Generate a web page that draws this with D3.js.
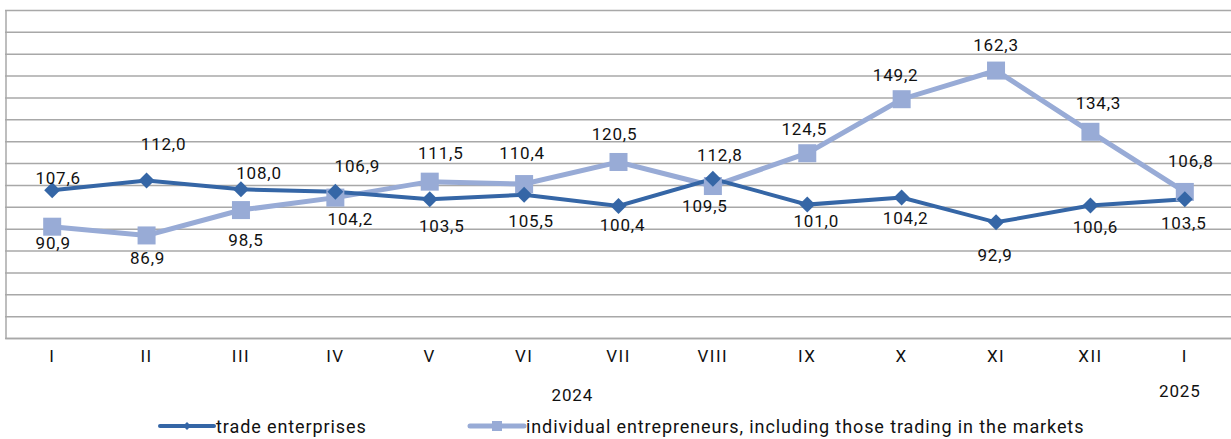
<!DOCTYPE html>
<html>
<head>
<meta charset="utf-8">
<script src="https://cdn.jsdelivr.net/npm/d3@7"></script>
<style>
  html, body { margin: 0; padding: 0; background: #fff; }
  svg text { font-family: Roboto, "Noto Sans", sans-serif; fill: #111; }
</style>
</head>
<body>
<div id="chart-area"></div>
<script>
// місяці
const months = ["I", "II", "III", "IV", "V", "VI", "VII", "VIII", "IX", "X", "XI", "XII", "I"];
const years = [
  { label: "2024", at: 5.5 },
  { label: "2025", at: 12 }
];

// ряди даних
const tradeEnterprises = [107.6, 112.0, 108.0, 106.9, 103.5, 105.5, 100.4, 112.8, 101.0, 104.2, 92.9, 100.6, 103.5];
const individualEntrepreneurs = [90.9, 86.9, 98.5, 104.2, 111.5, 110.4, 120.5, 109.5, 124.5, 149.2, 162.3, 134.3, 106.8];

const seriesNames = [
  "trade enterprises",
  "individual entrepreneurs, including those trading in the markets"
];

// зсуви підписів (px) відносно точки
const tradeLabelShift = [[6, -12], [17, -37], [18, -16], [22, -26], [12, 27], [7, 26], [4, 19], [7, -24], [9, 16], [4, 20], [-1, 33], [5, 22], [-1, 24]];
const indivLabelShift = [[1, 16], [1, 23], [5, 30], [15, 21], [11, -29], [-2, -31], [-4, -28], [-8, 20], [-3, -24], [-6, -24], [0, -26], [8, -29], [6, -31]];

const yDomain = [40, 190];
const yTicks = d3.range(40, 191, 10);

const width = 1231, height = 439;
const margin = { top: 10, right: -1, bottom: 101, left: 5 };
const innerW = width - margin.left - margin.right;
const innerH = height - margin.top - margin.bottom;

const darkBlue = "#3566a6";
const lightBlue = "#98abd6";

const svg = d3.select("#chart-area")
  .append("svg")
  .attr("width", width)
  .attr("height", height);

const g = svg.append("g")
  .attr("transform", "translate(" + margin.left + "," + margin.top + ")");

const xScale = d3.scaleBand()
  .domain(d3.range(months.length))
  .range([0, innerW])
  .padding(0);

const yScale = d3.scaleLinear()
  .domain(yDomain)
  .range([innerH, 0]);

const cx = i => xScale(i) + xScale.bandwidth() / 2;

// сітка
g.append("g")
  .attr("class", "grid")
  .call(d3.axisLeft(yScale).tickValues(yTicks).tickSize(-innerW).tickFormat(""))
  .call(s => s.select(".domain").remove())
  .call(s => s.selectAll("line").attr("stroke", "#a8a8a8").attr("stroke-width", 1.5));

// вісь OY (лише лінія)
g.append("line")
  .attr("x1", 1).attr("x2", 1)
  .attr("y1", 0).attr("y2", innerH)
  .attr("stroke", "#a8a8a8").attr("stroke-width", 1.5);

// вісь OX
const xAxis = g.append("g")
  .attr("transform", "translate(0," + innerH + ")")
  .call(d3.axisBottom(xScale).tickSize(0).tickPadding(12).tickFormat(i => months[i]));
xAxis.select(".domain").attr("stroke", "#a8a8a8").attr("stroke-width", 1.5);
xAxis.selectAll("text")
  .style("font-size", "17px")
  .style("letter-spacing", "1.5px")
  .attr("fill", "#111");

// роки
g.selectAll(".year")
  .data(years)
  .enter()
  .append("text")
  .attr("class", "year")
  .attr("x", d => xScale(Math.floor(d.at)) + xScale.bandwidth() * (d.at % 1 + 0.5) + (d.label === "2024" ? 1 : -5))
  .attr("y", d => innerH + (d.label === "2024" ? 57 : 53))
  .attr("text-anchor", "middle")
  .attr("dominant-baseline", "central")
  .style("font-size", "17px")
  .style("letter-spacing", "0.8px")
  .text(d => d.label);

const line = d3.line()
  .x((d, i) => cx(i))
  .y(d => yScale(d));

// лінія ФОП
g.append("path")
  .datum(individualEntrepreneurs)
  .attr("fill", "none")
  .attr("stroke", lightBlue)
  .attr("stroke-width", 5)
  .attr("d", line);

// лінія підприємств
g.append("path")
  .datum(tradeEnterprises)
  .attr("fill", "none")
  .attr("stroke", darkBlue)
  .attr("stroke-width", 4)
  .attr("d", line);

// маркери-квадрати
g.selectAll(".sq")
  .data(individualEntrepreneurs)
  .enter()
  .append("rect")
  .attr("class", "sq")
  .attr("x", (d, i) => cx(i) - 9)
  .attr("y", d => yScale(d) - 9)
  .attr("width", 18)
  .attr("height", 18)
  .attr("fill", lightBlue);

// маркери-ромби
g.selectAll(".dia")
  .data(tradeEnterprises)
  .enter()
  .append("path")
  .attr("class", "dia")
  .attr("transform", (d, i) => "translate(" + cx(i) + "," + yScale(d) + ")")
  .attr("d", "M0,-8L8,0L0,8L-8,0Z")
  .attr("fill", darkBlue);

const fmt = v => v.toFixed(1).replace(".", ",");

function drawLabels(data, shifts, cls) {
  g.selectAll("." + cls)
    .data(data)
    .enter()
    .append("text")
    .attr("class", cls)
    .attr("x", (d, i) => cx(i) + shifts[i][0])
    .attr("y", (d, i) => yScale(d) + shifts[i][1])
    .attr("text-anchor", "middle")
    .attr("dominant-baseline", "central")
    .style("font-size", "17px")
    .style("letter-spacing", "0.8px")
    .text(fmt);
}
drawLabels(tradeEnterprises, tradeLabelShift, "lbl-trade");
drawLabels(individualEntrepreneurs, indivLabelShift, "lbl-indiv");

// легенда
const legend = svg.append("g").attr("transform", "translate(0,426)");
const legendItems = [
  { name: seriesNames[0], x: 160, color: darkBlue, marker: "diamond" },
  { name: seriesNames[1], x: 470, color: lightBlue, marker: "square" }
];
legendItems.forEach(item => {
  legend.append("line")
    .attr("x1", item.x).attr("x2", item.x + 54)
    .attr("y1", 0).attr("y2", 0)
    .attr("stroke", item.color)
    .attr("stroke-width", item.marker === "square" ? 5 : 4)
    .attr("stroke-linecap", "round");
  if (item.marker === "diamond") {
    legend.append("path")
      .attr("transform", "translate(" + (item.x + 27) + ",0)")
      .attr("d", "M0,-4L4,0L0,4L-4,0Z")
      .attr("fill", item.color);
  } else {
    legend.append("rect")
      .attr("x", item.x + 22).attr("y", -5)
      .attr("width", 10).attr("height", 10)
      .attr("fill", item.color);
  }
  legend.append("text")
    .attr("x", item.x + 56)
    .attr("y", 0)
    .attr("dominant-baseline", "central")
    .style("font-size", "18px")
    .style("letter-spacing", "0.9px")
    .text(item.name);
});
</script>
</body>
</html>
